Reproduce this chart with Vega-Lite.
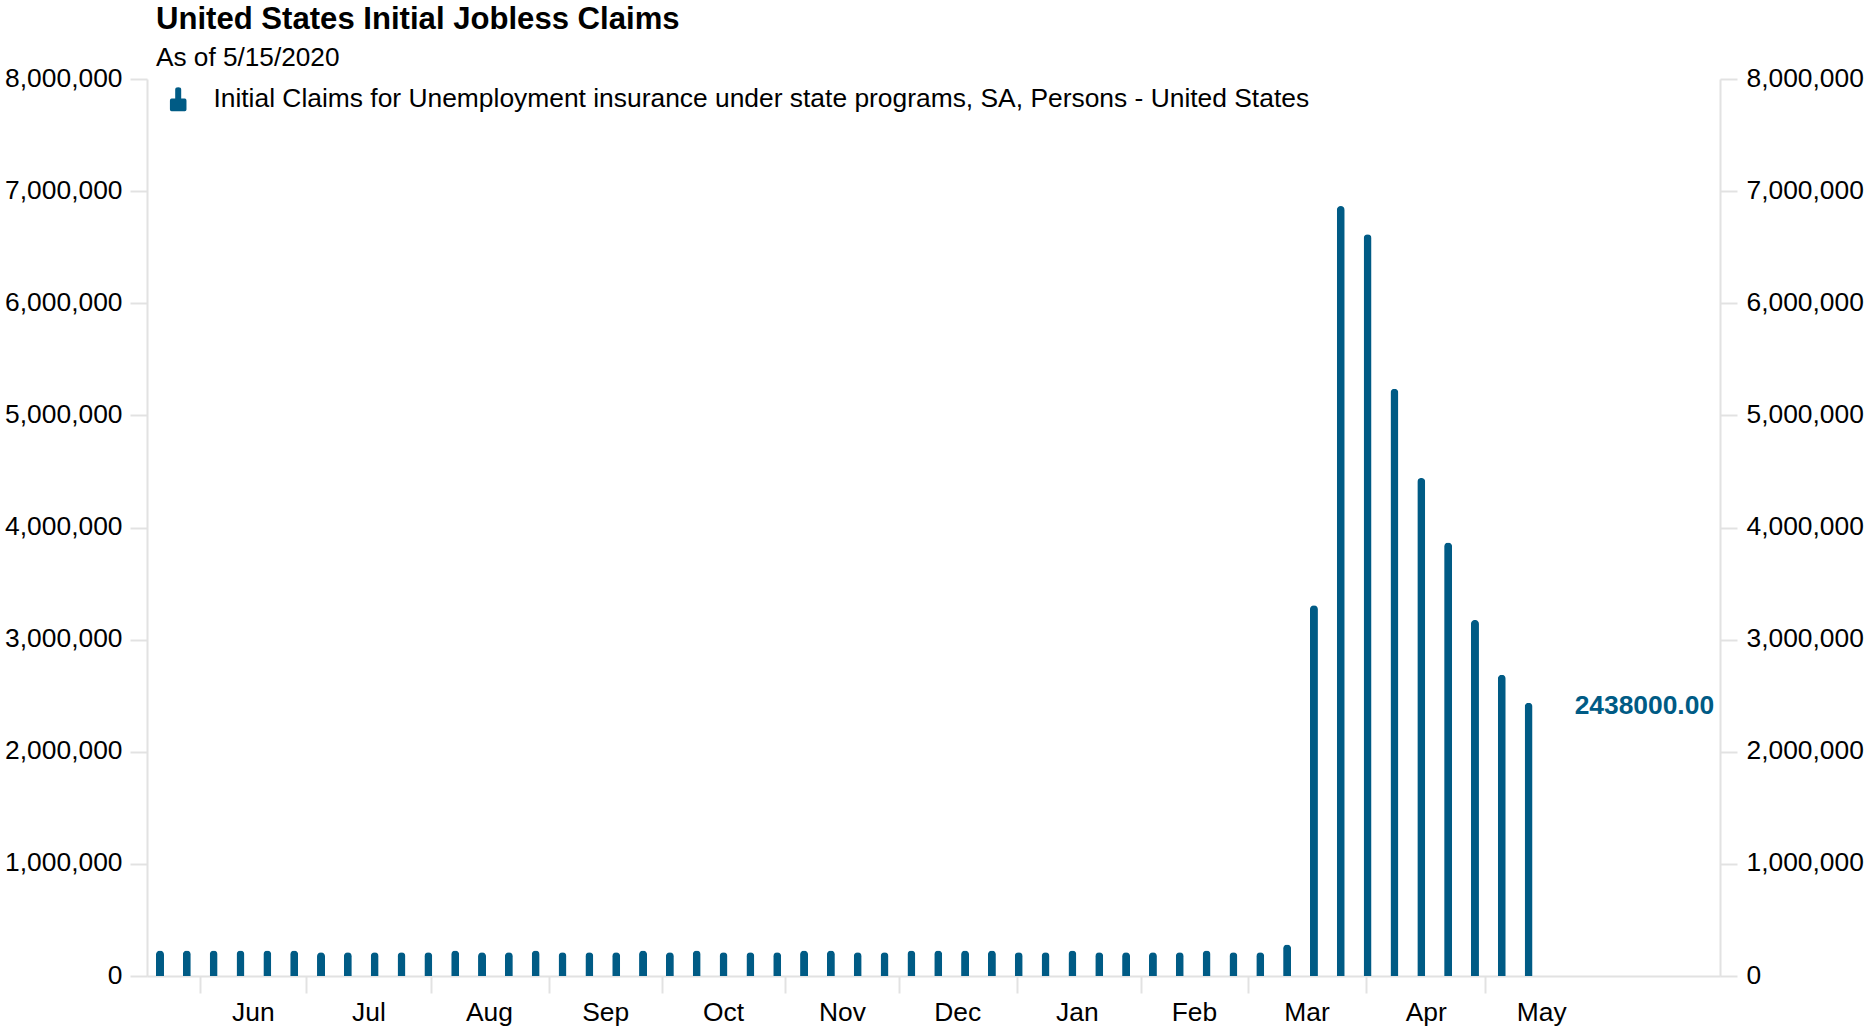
{
"$schema":"https://vega.github.io/schema/vega-lite/v6.json",
"width":1573,"height":897,
"autosize":{"type":"none"},
"padding":{"left":147,"top":79,"right":147,"bottom":50},
"background":"white",
"config":{"view":{"stroke":null}},
"title":{"text":"United States Initial Jobless Claims","subtitle":"As of 5/15/2020","anchor":"start","frame":"group","dx":9,"offset":-6.2,"font":"Liberation Sans","fontSize":31.1,"fontWeight":"bold","color":"#000000","subtitleFont":"Liberation Sans","subtitleFontSize":26.2,"subtitleColor":"#000000","subtitlePadding":10.1},
"datasets":{
"weeks":[
{"date":"2019-05-25","value":228000,"series":"Initial Claims for Unemployment insurance under state programs, SA, Persons - United States"},
{"date":"2019-06-01","value":228000,"series":"Initial Claims for Unemployment insurance under state programs, SA, Persons - United States"},
{"date":"2019-06-08","value":228000,"series":"Initial Claims for Unemployment insurance under state programs, SA, Persons - United States"},
{"date":"2019-06-15","value":228000,"series":"Initial Claims for Unemployment insurance under state programs, SA, Persons - United States"},
{"date":"2019-06-22","value":228000,"series":"Initial Claims for Unemployment insurance under state programs, SA, Persons - United States"},
{"date":"2019-06-29","value":228000,"series":"Initial Claims for Unemployment insurance under state programs, SA, Persons - United States"},
{"date":"2019-07-06","value":212000,"series":"Initial Claims for Unemployment insurance under state programs, SA, Persons - United States"},
{"date":"2019-07-13","value":212000,"series":"Initial Claims for Unemployment insurance under state programs, SA, Persons - United States"},
{"date":"2019-07-20","value":212000,"series":"Initial Claims for Unemployment insurance under state programs, SA, Persons - United States"},
{"date":"2019-07-27","value":212000,"series":"Initial Claims for Unemployment insurance under state programs, SA, Persons - United States"},
{"date":"2019-08-03","value":212000,"series":"Initial Claims for Unemployment insurance under state programs, SA, Persons - United States"},
{"date":"2019-08-10","value":228000,"series":"Initial Claims for Unemployment insurance under state programs, SA, Persons - United States"},
{"date":"2019-08-17","value":212000,"series":"Initial Claims for Unemployment insurance under state programs, SA, Persons - United States"},
{"date":"2019-08-24","value":212000,"series":"Initial Claims for Unemployment insurance under state programs, SA, Persons - United States"},
{"date":"2019-08-31","value":228000,"series":"Initial Claims for Unemployment insurance under state programs, SA, Persons - United States"},
{"date":"2019-09-07","value":212000,"series":"Initial Claims for Unemployment insurance under state programs, SA, Persons - United States"},
{"date":"2019-09-14","value":212000,"series":"Initial Claims for Unemployment insurance under state programs, SA, Persons - United States"},
{"date":"2019-09-21","value":212000,"series":"Initial Claims for Unemployment insurance under state programs, SA, Persons - United States"},
{"date":"2019-09-28","value":228000,"series":"Initial Claims for Unemployment insurance under state programs, SA, Persons - United States"},
{"date":"2019-10-05","value":212000,"series":"Initial Claims for Unemployment insurance under state programs, SA, Persons - United States"},
{"date":"2019-10-12","value":228000,"series":"Initial Claims for Unemployment insurance under state programs, SA, Persons - United States"},
{"date":"2019-10-19","value":212000,"series":"Initial Claims for Unemployment insurance under state programs, SA, Persons - United States"},
{"date":"2019-10-26","value":212000,"series":"Initial Claims for Unemployment insurance under state programs, SA, Persons - United States"},
{"date":"2019-11-02","value":212000,"series":"Initial Claims for Unemployment insurance under state programs, SA, Persons - United States"},
{"date":"2019-11-09","value":228000,"series":"Initial Claims for Unemployment insurance under state programs, SA, Persons - United States"},
{"date":"2019-11-16","value":228000,"series":"Initial Claims for Unemployment insurance under state programs, SA, Persons - United States"},
{"date":"2019-11-23","value":212000,"series":"Initial Claims for Unemployment insurance under state programs, SA, Persons - United States"},
{"date":"2019-11-30","value":212000,"series":"Initial Claims for Unemployment insurance under state programs, SA, Persons - United States"},
{"date":"2019-12-07","value":228000,"series":"Initial Claims for Unemployment insurance under state programs, SA, Persons - United States"},
{"date":"2019-12-14","value":228000,"series":"Initial Claims for Unemployment insurance under state programs, SA, Persons - United States"},
{"date":"2019-12-21","value":228000,"series":"Initial Claims for Unemployment insurance under state programs, SA, Persons - United States"},
{"date":"2019-12-28","value":228000,"series":"Initial Claims for Unemployment insurance under state programs, SA, Persons - United States"},
{"date":"2020-01-04","value":212000,"series":"Initial Claims for Unemployment insurance under state programs, SA, Persons - United States"},
{"date":"2020-01-11","value":212000,"series":"Initial Claims for Unemployment insurance under state programs, SA, Persons - United States"},
{"date":"2020-01-18","value":228000,"series":"Initial Claims for Unemployment insurance under state programs, SA, Persons - United States"},
{"date":"2020-01-25","value":212000,"series":"Initial Claims for Unemployment insurance under state programs, SA, Persons - United States"},
{"date":"2020-02-01","value":212000,"series":"Initial Claims for Unemployment insurance under state programs, SA, Persons - United States"},
{"date":"2020-02-08","value":212000,"series":"Initial Claims for Unemployment insurance under state programs, SA, Persons - United States"},
{"date":"2020-02-15","value":212000,"series":"Initial Claims for Unemployment insurance under state programs, SA, Persons - United States"},
{"date":"2020-02-22","value":228000,"series":"Initial Claims for Unemployment insurance under state programs, SA, Persons - United States"},
{"date":"2020-02-29","value":212000,"series":"Initial Claims for Unemployment insurance under state programs, SA, Persons - United States"},
{"date":"2020-03-07","value":212000,"series":"Initial Claims for Unemployment insurance under state programs, SA, Persons - United States"},
{"date":"2020-03-14","value":282000,"series":"Initial Claims for Unemployment insurance under state programs, SA, Persons - United States"},
{"date":"2020-03-21","value":3307000,"series":"Initial Claims for Unemployment insurance under state programs, SA, Persons - United States"},
{"date":"2020-03-28","value":6867000,"series":"Initial Claims for Unemployment insurance under state programs, SA, Persons - United States"},
{"date":"2020-04-04","value":6615000,"series":"Initial Claims for Unemployment insurance under state programs, SA, Persons - United States"},
{"date":"2020-04-11","value":5237000,"series":"Initial Claims for Unemployment insurance under state programs, SA, Persons - United States"},
{"date":"2020-04-18","value":4442000,"series":"Initial Claims for Unemployment insurance under state programs, SA, Persons - United States"},
{"date":"2020-04-25","value":3867000,"series":"Initial Claims for Unemployment insurance under state programs, SA, Persons - United States"},
{"date":"2020-05-02","value":3176000,"series":"Initial Claims for Unemployment insurance under state programs, SA, Persons - United States"},
{"date":"2020-05-09","value":2687000,"series":"Initial Claims for Unemployment insurance under state programs, SA, Persons - United States"},
{"date":"2020-05-16","value":2438000,"series":"Initial Claims for Unemployment insurance under state programs, SA, Persons - United States"}
],
"months":[
{"month":"Jun","mid":"2019-06-18T08:00:00Z","value":0},
{"month":"Jul","mid":"2019-07-18T12:00:00Z","value":0},
{"month":"Aug","mid":"2019-08-18T22:00:00Z","value":0},
{"month":"Sep","mid":"2019-09-18T06:00:00Z","value":0},
{"month":"Oct","mid":"2019-10-19T00:00:00Z","value":0},
{"month":"Nov","mid":"2019-11-19T00:00:00Z","value":0},
{"month":"Dec","mid":"2019-12-19T02:00:00Z","value":0},
{"month":"Jan","mid":"2020-01-19T07:00:00Z","value":0},
{"month":"Feb","mid":"2020-02-18T20:00:00Z","value":0},
{"month":"Mar","mid":"2020-03-19T05:00:00Z","value":0},
{"month":"Apr","mid":"2020-04-19T07:00:00Z","value":0},
{"month":"May","mid":"2020-05-19T10:00:00Z","value":0}
]
},
"resolve":{"scale":{"y":"independent"},"axis":{"y":"independent"}},
"layer":[
{"data":{"name":"weeks"},
"mark":{"type":"bar","size":8,"cornerRadiusTopLeft":4,"cornerRadiusTopRight":4},
"encoding":{
"x":{"field":"date","type":"temporal","scale":{"type":"utc","nice":false,"padding":0,"domain":["2019-05-21T14:38:00Z","2020-07-04T22:00:00Z"]},
 "axis":{"title":null,"orient":"bottom","grid":false,"labels":false,"tickSize":17,"tickWidth":2,"tickColor":"#e2e2e2","domainColor":"#e2e2e2","domainWidth":2,
 "values":["2019-06-04T10:00:00Z","2019-07-02T00:00:00Z","2019-08-03T17:00:00Z","2019-09-03T12:00:00Z","2019-10-03T00:00:00Z","2019-11-04T00:00:00Z","2019-12-03T17:00:00Z","2020-01-03T12:00:00Z","2020-02-04T22:00:00Z","2020-03-03T19:00:00Z","2020-04-03T12:00:00Z","2020-05-04T14:00:00Z"]}},
"y":{"field":"value","type":"quantitative","scale":{"domain":[0,8000000],"nice":false},
 "axis":{"title":null,"orient":"left","grid":false,"values":[0,1000000,2000000,3000000,4000000,5000000,6000000,7000000,8000000],"format":",.0f","labelFont":"Liberation Sans","labelFontSize":26.4,"labelColor":"#000000","labelPadding":8,"tickSize":17,"tickWidth":2,"tickColor":"#e2e2e2","domainColor":"#e2e2e2","domainWidth":2,"labelOffset":-1}},
"color":{"field":"series","type":"nominal","scale":{"range":["#005b85"]},
 "legend":{"title":null,"orient":"none","legendX":18,"legendY":7,"symbolType":"M-0.25,-0.05 L-0.25,-0.8 Q-0.25,-1 0,-1 Q0.25,-1 0.25,-0.8 L0.25,-0.05 L0.55,-0.05 Q0.69,-0.05 0.69,0.1 L0.69,0.85 Q0.69,1 0.55,1 L-0.55,1 Q-0.69,1 -0.69,0.85 L-0.69,0.1 Q-0.69,-0.05 -0.55,-0.05 Z","symbolSize":576,"symbolStrokeWidth":0,"symbolOpacity":1,"labelFont":"Liberation Sans","labelFontSize":26.4,"labelColor":"#000000","labelLimit":1400,"labelOffset":22}}
}},
{"data":{"name":"weeks"},
"transform":[{"filter":"datum.value==2438000"}],
"mark":{"type":"text","align":"left","baseline":"middle","dx":46,"dy":3,"font":"Liberation Sans","fontSize":26.4,"fontWeight":"bold","color":"#005b85"},
"encoding":{
"x":{"field":"date","type":"temporal"},
"y":{"field":"value","type":"quantitative","scale":{"domain":[0,8000000],"nice":false},
 "axis":{"title":null,"orient":"right","grid":false,"values":[0,1000000,2000000,3000000,4000000,5000000,6000000,7000000,8000000],"format":",.0f","labelFont":"Liberation Sans","labelFontSize":26.4,"labelColor":"#000000","labelPadding":9,"tickSize":17,"tickWidth":2,"tickColor":"#e2e2e2","domainColor":"#e2e2e2","domainWidth":2,"labelOffset":-1}},
"text":{"value":"2438000.00"}
}},
{"data":{"name":"months"},
"mark":{"type":"text","align":"center","baseline":"middle","dy":37,"font":"Liberation Sans","fontSize":26.4,"color":"#000000"},
"encoding":{
"x":{"field":"mid","type":"temporal"},
"y":{"field":"value","type":"quantitative","scale":{"domain":[0,8000000],"nice":false},"axis":null},
"text":{"field":"month","type":"nominal"}
}}
]
}
